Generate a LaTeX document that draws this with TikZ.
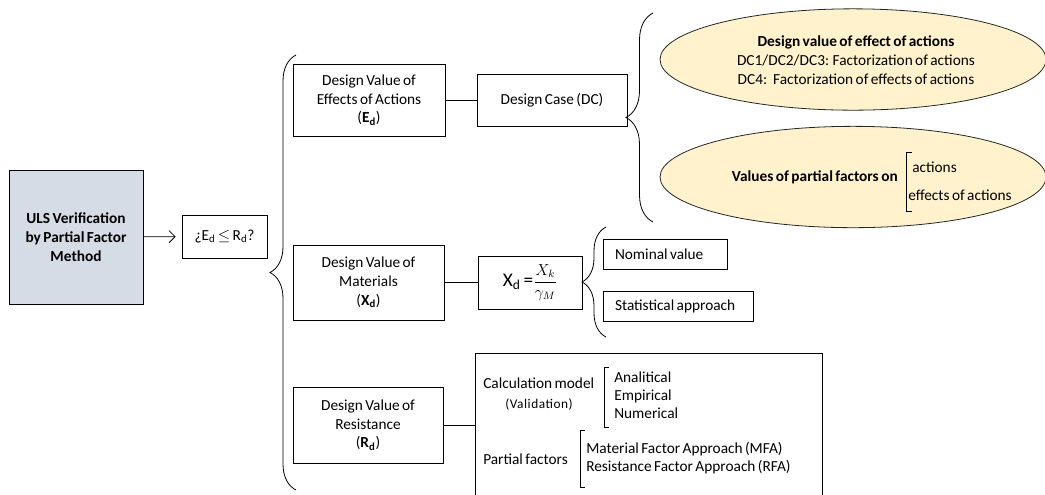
\documentclass[tikz,border=0pt]{standalone}
\usepackage{fontspec}
\setmainfont{Carlito}[WordSpace=0.7]
\usetikzlibrary{shapes.geometric,decorations.pathreplacing,arrows.meta}
\definecolor{ulsgray}{HTML}{D6DCE5}
\definecolor{ovalyellow}{HTML}{FFF2CC}

\begin{document}
\begin{tikzpicture}[x=0.75pt,y=-0.75pt,
	box/.style={draw,line width=0.6pt,align=center,inner sep=0pt,font=\fontsize{11.5}{14}\selectfont},
	leftbox/.style={draw,line width=0.6pt,inner xsep=9pt,inner ysep=0pt,minimum height=22.5pt,font=\fontsize{11.5}{14}\selectfont},
	oval/.style={ellipse,draw=black!85,line width=0.6pt,fill=ovalyellow,minimum width=289.5pt,minimum height=76pt,inner sep=0pt},
	txt/.style={inner sep=0pt,font=\fontsize{11.5}{13.5}\selectfont},
	curly/.style={decorate,decoration={brace,amplitude=#1},line width=0.6pt},
	link/.style={line width=0.6pt}]
\useasboundingbox (0,0) rectangle (1045,494);
\clip (0,0) rectangle (1045,494);

% left column
\node[box,fill=ulsgray,minimum width=100.5pt,minimum height=100.5pt,font=\fontsize{11.5}{14}\selectfont\bfseries] (uls) at (76,237) {ULS Verification\\by Partial Factor\\Method};
\node[box,minimum width=63.75pt,minimum height=32.25pt] (check) at (224.5,236.5) {¿E\textsubscript{d} $\le$ R\textsubscript{d}?};
\draw[link,-{Straight Barb[length=4.5pt,width=9pt]},shorten >=4.5pt] (uls) -- (check);
\draw[curly=19.5pt] (296,490) -- (296,55);

% effects of actions
\node[box,minimum width=114pt,minimum height=54pt] (effects) at (369,100) {Design Value of\\Effects of Actions\\(\textbf{E\textsubscript{d}})};
\node[box,minimum width=112.5pt,minimum height=39pt] (dcase) at (552,100) {Design Case (DC)};
\draw[link] (effects) -- (dcase);
\draw[curly=20.25pt] (653,222) -- (653,13);
\node[oval] (oval1) at (853,59.5) {};
\node[txt,align=center,font=\fontsize{11.5}{14.25}\selectfont] (dvtext) at (856,60) {\textbf{Design value of effect of actions}\\DC1/DC2/DC3: Factorization of actions\\DC4:~ Factorization of effects of actions};
\node[oval] (oval2) at (853,177) {};
\node[txt,anchor=east] (pfon) at (898,177) {\textbf{Values of partial factors on}};
\node[txt,anchor=west] (act) at (912,167) {actions};
\node[txt,anchor=west] (effact) at (908,195) {effects of actions};
\draw[link] (912,152) -- (906,152) -- (906,211) -- (912,211);

% materials
\node[box,minimum width=113.25pt,minimum height=56.25pt] (mater) at (368.5,282.5) {Design Value of\\Materials\\(\textbf{X\textsubscript{d}})};
\node[box,minimum width=78pt,minimum height=39.75pt,font=\fontsize{14.5}{16}\selectfont] (xd) at (530,282.5) {X\textsubscript{d} ={\fontsize{11.5}{12}\selectfont$\displaystyle\frac{X_k}{\gamma_M}$}};
\draw[link] (mater) -- (xd);
\draw[curly=18pt] (606,337) -- (606,227);
\node[leftbox] (nominal) at (665,254) {\makebox[75pt][l]{Nominal value}};
\node[leftbox] (stat) at (678,306) {\makebox[94.5pt][l]{Statistical approach}};

% resistance
\node[box,minimum width=112.5pt,minimum height=57pt] (resist) at (368,425) {Design Value of\\Resistance\\(\textbf{R\textsubscript{d}})};
\node[box,anchor=north west,minimum width=260.25pt,minimum height=112.5pt] (resbox) at (475,353) {};
\draw[link] (resist.east) -- (resist.east -| resbox.west);
\node[txt,anchor=west] (calc) at (483,383) {Calculation model};
\node[txt,font=\fontsize{10}{12}\selectfont\addfontfeature{LetterSpace=4}] (valid) at (539,405) {(Validation)};
\draw[link] (609,367) -- (604,367) -- (604,427) -- (609,427);
\node[txt,anchor=west,align=left] (models) at (614,395) {Analitical\\Empirical\\Numerical};
\node[txt,anchor=west] (pfact) at (483,459) {Partial factors};
\draw[link] (585,430) -- (580,430) -- (580,487) -- (585,487);
\node[txt,anchor=west,align=left] (approach) at (586,458) {Material Factor Approach (MFA)\\Resistance Factor Approach (RFA)};
\end{tikzpicture}
\end{document}
